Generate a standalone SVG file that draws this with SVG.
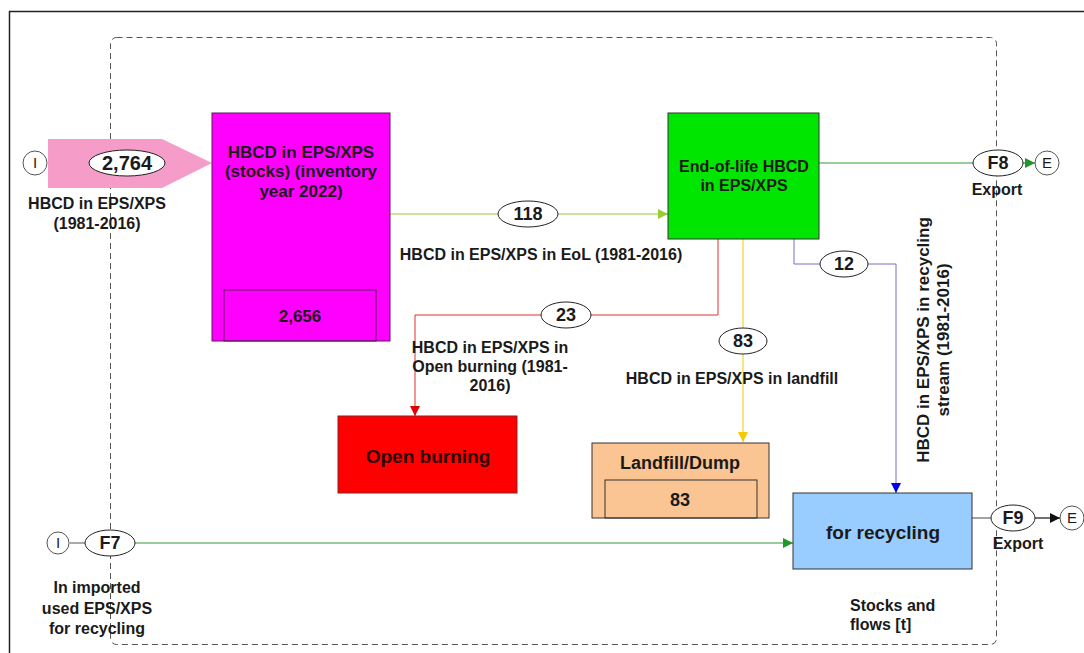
<svg xmlns="http://www.w3.org/2000/svg" width="1084" height="653" viewBox="0 0 1084 653">
<style>
text{font-family:"Liberation Sans",Arial,sans-serif;font-weight:bold;fill:#1a1a1a;text-anchor:middle}
.lbl{font-size:16px}
.num{font-size:18px}
.box{stroke:#333;stroke-width:1}
.ell{fill:#fff;stroke:#222;stroke-width:1}
.cir{fill:#fff;stroke:#555;stroke-width:1}
.cir-t{font-size:15px;font-weight:normal}
</style>
<defs>
<marker id="aYG" viewBox="0 0 10 10" refX="10" refY="5" markerWidth="10" markerHeight="10" markerUnits="userSpaceOnUse" orient="auto"><path d="M0,0L10,5L0,10z" fill="#99CC33"/></marker>
<marker id="aG" viewBox="0 0 10 10" refX="10" refY="5" markerWidth="10" markerHeight="10" markerUnits="userSpaceOnUse" orient="auto"><path d="M0,0L10,5L0,10z" fill="#22962a"/></marker>
<marker id="aR" viewBox="0 0 10 10" refX="10" refY="5" markerWidth="10" markerHeight="10" markerUnits="userSpaceOnUse" orient="auto"><path d="M0,0L10,5L0,10z" fill="#e00000"/></marker>
<marker id="aY" viewBox="0 0 10 10" refX="10" refY="5" markerWidth="10" markerHeight="10" markerUnits="userSpaceOnUse" orient="auto"><path d="M0,0L10,5L0,10z" fill="#f2cc00"/></marker>
<marker id="aB" viewBox="0 0 10 10" refX="10" refY="5" markerWidth="10" markerHeight="10" markerUnits="userSpaceOnUse" orient="auto"><path d="M0,0L10,5L0,10z" fill="#0000ee"/></marker>
<marker id="aK" viewBox="0 0 10 10" refX="10" refY="5" markerWidth="10" markerHeight="10" markerUnits="userSpaceOnUse" orient="auto"><path d="M0,0L10,5L0,10z" fill="#111"/></marker>
</defs>
<rect width="1084" height="653" fill="#fff"/>
<rect x="9.5" y="11.5" width="1100" height="700" fill="none" stroke="#222" stroke-width="1.5"/>
<rect id="system-boundary" x="110.5" y="37.5" width="886" height="607" rx="6" fill="none" stroke="#555" stroke-width="1" stroke-dasharray="6 4"/>

<g id="connectors">
  <line x1="390" y1="214" x2="668" y2="214" stroke="#99CC33" stroke-width="1.2" marker-end="url(#aYG)"/>
  <line x1="819" y1="163" x2="973" y2="163" stroke="#339933" stroke-width="1.2"/>
  <line x1="1023" y1="163" x2="1035" y2="163" stroke="#22962a" stroke-width="1.2" marker-end="url(#aG)"/>
  <polyline points="718,239 718,315 415,315 415,416" fill="none" stroke="#e03030" stroke-width="1" marker-end="url(#aR)"/>
  <line x1="743" y1="239" x2="743" y2="442" stroke="#f2cc00" stroke-width="1" marker-end="url(#aY)"/>
  <polyline points="794,239 794,264 896,264 896,493" fill="none" stroke="#7070c0" stroke-width="1" marker-end="url(#aB)"/>
  <line x1="70" y1="543" x2="85" y2="543" stroke="#555" stroke-width="1"/>
  <line x1="135" y1="543" x2="793" y2="543" stroke="#339933" stroke-width="1.2" marker-end="url(#aG)"/>
  <line x1="972" y1="518" x2="991" y2="518" stroke="#666" stroke-width="1.2"/>
  <line x1="1035" y1="518" x2="1060" y2="518" stroke="#111" stroke-width="1.2" marker-end="url(#aK)"/>
</g>

<g id="input-hbcd">
  <circle class="cir" cx="35" cy="163" r="12"/>
  <text class="cir-t" x="35" y="168">I</text>
  <path d="M48,139H162L212,163L162,188H48Z" fill="#F59CC8"/>
  <ellipse class="ell" cx="127" cy="163" rx="38" ry="13"/>
  <text x="127" y="170" style="font-size:20px">2,764</text>
  <text class="lbl" x="97" y="209">HBCD in EPS/XPS</text>
  <text class="lbl" x="97" y="229">(1981-2016)</text>
</g>

<g id="stocks">
  <rect x="212" y="113" width="178" height="228" fill="#FF00FF" stroke="#5a1a5a" stroke-width="1"/>
  <rect x="224" y="290" width="152" height="51" fill="none" stroke="#5a1a5a" stroke-width="1"/>
  <text x="301" y="158" style="font-size:17px">HBCD in EPS/XPS</text>
  <text x="301" y="177" style="font-size:17px">(stocks) (inventory</text>
  <text x="301" y="197" style="font-size:17px">year 2022)</text>
  <text x="300" y="322" style="font-size:17px">2,656</text>
</g>

<g id="flow-118">
  <ellipse class="ell" cx="528" cy="214" rx="30" ry="13"/>
  <text class="num" x="528" y="220">118</text>
  <text class="lbl" x="541" y="260">HBCD in EPS/XPS in EoL (1981-2016)</text>
</g>

<g id="end-of-life">
  <rect class="box" x="668" y="113" width="151" height="126" fill="#00E600"/>
  <text x="744" y="172" style="font-size:16px">End-of-life HBCD</text>
  <text x="744" y="191" style="font-size:16px">in EPS/XPS</text>
</g>

<g id="export-f8">
  <ellipse class="ell" cx="998" cy="163" rx="25" ry="13"/>
  <text class="num" x="998" y="169">F8</text>
  <text class="lbl" x="997" y="195">Export</text>
  <circle class="cir" cx="1047" cy="163" r="12"/>
  <text class="cir-t" x="1047" y="168">E</text>
</g>

<g id="flow-23">
  <ellipse class="ell" cx="566" cy="315" rx="25" ry="13"/>
  <text class="num" x="566" y="321">23</text>
  <text class="lbl" x="490" y="353">HBCD in EPS/XPS in</text>
  <text class="lbl" x="490" y="372">Open burning (1981-</text>
  <text class="lbl" x="490" y="391">2016)</text>
</g>

<g id="open-burning">
  <rect x="338" y="416" width="179" height="77" fill="#FF0000" stroke="#8a2020" stroke-width="1"/>
  <text x="428" y="463" style="font-size:19px;fill:#2a0000">Open burning</text>
</g>

<g id="flow-83">
  <ellipse class="ell" cx="743" cy="341" rx="24" ry="13"/>
  <text class="num" x="743" y="347">83</text>
  <text class="lbl" x="732" y="384">HBCD in EPS/XPS in landfill</text>
</g>

<g id="landfill">
  <rect class="box" x="592" y="443" width="177" height="75" fill="#FBC593"/>
  <rect x="605" y="480" width="152" height="38" fill="none" stroke="#333" stroke-width="1"/>
  <text x="680" y="469" style="font-size:18px">Landfill/Dump</text>
  <text x="680" y="506" style="font-size:18px">83</text>
</g>

<g id="flow-12">
  <ellipse class="ell" cx="844" cy="264" rx="24" ry="13"/>
  <text class="num" x="844" y="270">12</text>
  <text class="lbl" transform="translate(933,340) rotate(-90)" style="font-size:17px"><tspan x="0" y="-4">HBCD in EPS/XPS in recycling</tspan><tspan x="0" y="16">stream (1981-2016)</tspan></text>
</g>

<g id="recycling">
  <rect class="box" x="793" y="493" width="179" height="76" fill="#99CCFF"/>
  <text x="883" y="539" style="font-size:19px">for recycling</text>
</g>

<g id="export-f9">
  <ellipse class="ell" cx="1013" cy="518" rx="22" ry="13"/>
  <text class="num" x="1013" y="524">F9</text>
  <text class="lbl" x="1018" y="549">Export</text>
  <circle class="cir" cx="1072" cy="518" r="12"/>
  <text class="cir-t" x="1072" y="523">E</text>
</g>

<g id="import-f7">
  <circle class="cir" cx="58" cy="543" r="11"/>
  <text class="cir-t" x="58" y="548">I</text>
  <ellipse class="ell" cx="110" cy="543" rx="25" ry="13"/>
  <text class="num" x="110" y="549">F7</text>
  <text class="lbl" x="97" y="593">In imported</text>
  <text class="lbl" x="97" y="614">used EPS/XPS</text>
  <text class="lbl" x="97" y="634">for recycling</text>
</g>

<g id="legend">
  <text class="lbl" x="850" y="611" style="text-anchor:start">Stocks and</text>
  <text class="lbl" x="850" y="630" style="text-anchor:start">flows [t]</text>
</g>
</svg>
